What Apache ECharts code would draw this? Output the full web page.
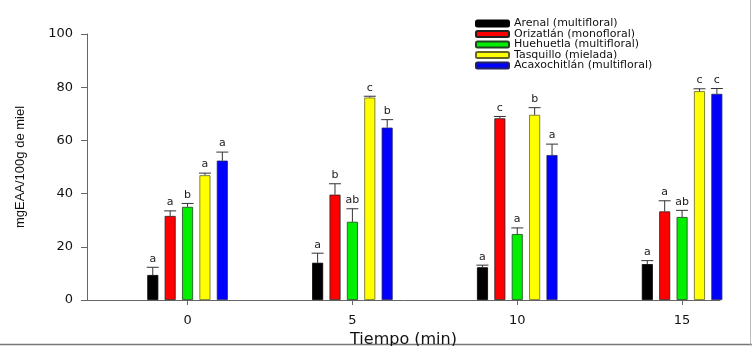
<!DOCTYPE html>
<html>
<head>
<meta charset="utf-8">
<script src="https://cdn.jsdelivr.net/npm/echarts@6/dist/echarts.min.js"></script>
<style>html,body{margin:0;padding:0;background:#fff}#c{width:752px;height:346px}</style>
</head>
<body>
<div id="c"></div>
<script>
// ---- data ----
var times = [0, 5, 10, 15];
var xTickLabels = ['0', '5', '10', '15'];
var yTicks = [0, 20, 40, 60, 80, 100];
var seriesNames = ['Arenal (multifloral)', 'Orizatlán (monofloral)', 'Huehuetla (multifloral)', 'Tasquillo (mielada)', 'Acaxochitlán (multifloral)'];
var arenal      = [9.4, 14.0, 12.3, 13.5];
var orizatlan   = [31.6, 39.6, 68.3, 33.3];
var huehuetla   = [35.0, 29.4, 24.8, 31.2];
var tasquillo   = [46.9, 76.1, 69.6, 78.5];
var acaxochitlan= [52.4, 64.8, 54.5, 77.5];
var arenalErr      = [2.9, 3.6, 0.8, 1.3];
var orizatlanErr   = [1.9, 4.1, 0.7, 4.0];
var huehuetlaErr   = [1.3, 4.9, 2.3, 2.5];
var tasquilloErr   = [0.8, 0.5, 2.7, 0.9];
var acaxochitlanErr= [3.2, 3.0, 4.1, 2.0];
var arenalSig      = ['a', 'a', 'a', 'a'];
var orizatlanSig   = ['a', 'b', 'c', 'a'];
var huehuetlaSig   = ['b', 'ab', 'a', 'ab'];
var tasquilloSig   = ['a', 'c', 'b', 'c'];
var acaxochitlanSig= ['a', 'b', 'a', 'c'];

var colors = ['#000000', '#ff0000', '#00ee00', '#ffff00', '#0000ff'];
var borders = ['#000000', '#222222', '#224422', '#666622', '#222266'];
var allVals = [arenal, orizatlan, huehuetla, tasquillo, acaxochitlan];
var allErr = [arenalErr, orizatlanErr, huehuetlaErr, tasquilloErr, acaxochitlanErr];
var allSig = [arenalSig, orizatlanSig, huehuetlaSig, tasquilloSig, acaxochitlanSig];

var BAR_W = 11, STEP = 17.4;
var chart = echarts.init(document.getElementById('c'), null, {renderer: 'canvas'});
var series = [];
allVals.forEach(function (vals, i) {
  series.push({
    name: seriesNames[i], type: 'bar', barWidth: BAR_W, barGap: '58%',
    itemStyle: {color: colors[i], borderColor: borders[i], borderWidth: 0.8},
    data: times.map(function (t, j) { return [t, vals[j]]; }),
    z: 2
  });
});
allVals.forEach(function (vals, i) {
  series.push({
    type: 'custom', name: 'err' + i, z: 3,
    data: times.map(function (t, j) { return [t, vals[j], allErr[i][j], j]; }),
    renderItem: function (params, api) {
      var x = api.value(0), y = api.value(1), e = api.value(2), j = api.value(3);
      var p = api.coord([x, y]), q = api.coord([x, y + e]);
      var cx = p[0] + (i - 2) * STEP;
      return {type: 'group', children: [
        {type: 'line', shape: {x1: cx, y1: p[1], x2: cx, y2: q[1]}, style: {stroke: '#333', lineWidth: 1}},
        {type: 'line', shape: {x1: cx - 6, y1: q[1], x2: cx + 6, y2: q[1]}, style: {stroke: '#333', lineWidth: 1}},
        {type: 'text', x: cx, y: q[1] - 3, style: {text: allSig[i][j], fill: '#222', font: '11px "DejaVu Sans", sans-serif', align: 'center', verticalAlign: 'bottom'}}
      ]};
    }
  });
});

chart.setOption({
  animation: false,
  backgroundColor: '#fff',
  grid: {left: 87, right: 32, top: 34, bottom: 46, outerBoundsMode: 'none', containLabel: false},
  legend: {
    data: seriesNames, orient: 'vertical', left: 470, top: 13,
    itemWidth: 33, itemHeight: 6, itemGap: -0.5, selectedMode: false,
    textStyle: {fontFamily: '"DejaVu Sans", sans-serif', fontSize: 11, lineHeight: 10.5, color: '#111'}
  },
  xAxis: {
    type: 'value', min: -3.05, max: 16.15,
    name: 'Tiempo (min)', nameLocation: 'middle', nameGap: 27,
    nameTextStyle: {fontFamily: '"DejaVu Sans", sans-serif', fontSize: 16, color: '#111'},
    axisLine: {show: true, onZero: false, lineStyle: {color: '#666', width: 1}},
    axisTick: {show: true, inside: false, length: 5, customValues: times, lineStyle: {color: '#666'}},
    axisLabel: {customValues: times, margin: 14, fontFamily: '"DejaVu Sans", sans-serif', fontSize: 13, color: '#111',
      formatter: function (v) { return xTickLabels[times.indexOf(v)]; }},
    splitLine: {show: false}
  },
  yAxis: {
    type: 'value', min: 0, max: 100, interval: 20,
    name: 'mgEAA/100g de miel', nameLocation: 'middle', nameGap: 60, nameRotate: 90,
    nameTextStyle: {fontFamily: '"Liberation Sans", Arial, sans-serif', fontSize: 13, color: '#111'},
    axisLine: {show: true, onZero: false, lineStyle: {color: '#666', width: 1}},
    axisTick: {show: true, inside: false, length: 6, lineStyle: {color: '#666'}},
    axisLabel: {margin: 14, fontFamily: '"DejaVu Sans", sans-serif', fontSize: 13, color: '#111'},
    splitLine: {show: false}
  },
  graphic: [
    {type: 'line', shape: {x1: 0, y1: 344.5, x2: 752, y2: 344.5}, style: {stroke: '#777', lineWidth: 1.5}},
    {type: 'line', shape: {x1: 750.5, y1: 0, x2: 750.5, y2: 346}, style: {stroke: '#bbb', lineWidth: 1}}
  ],
  series: series
});
</script>
</body>
</html>
